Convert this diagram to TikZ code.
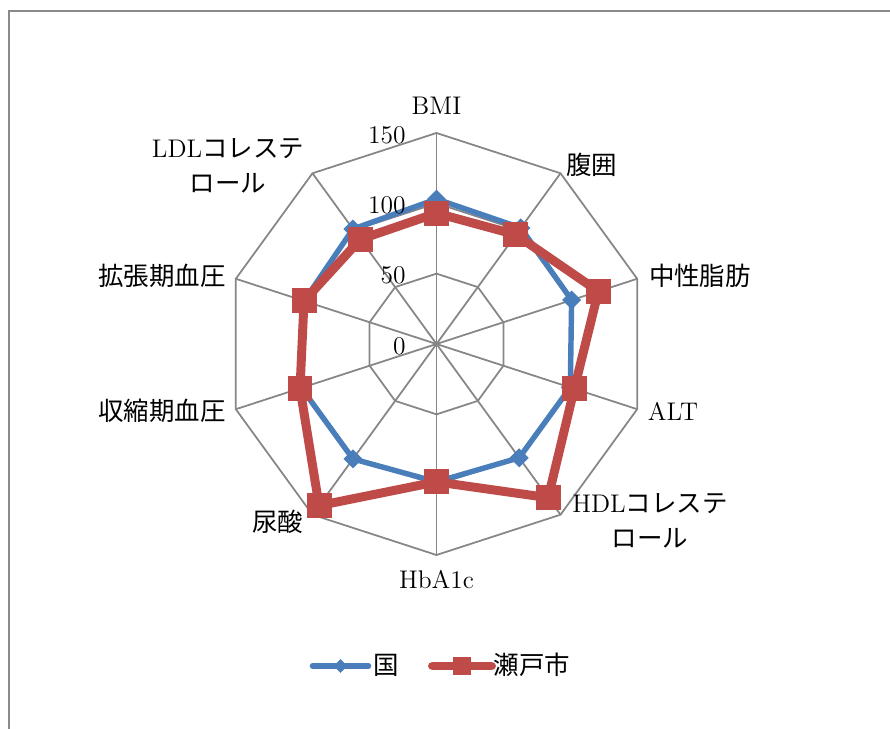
\documentclass[tikz,border=0pt]{standalone}
\usepackage{fontspec}
\newfontfamily\jp{Noto Sans CJK JP}
\usepackage{tikz}
\usetikzlibrary{
    calc,
    positioning,
    shapes.geometric
}
\definecolor{gridgray}{HTML}{868686}
\definecolor{framegray}{HTML}{8A8A8A}
\definecolor{kuniblue}{HTML}{4A7EBB}
\definecolor{setored}{HTML}{BE4B48}

\tikzset{
    gridline/.style={draw=gridgray, line width=1pt},
    lbl/.style={font=\fontsize{14.5}{20}\selectfont, inner sep=0pt, align=center},
    kuniline/.style={draw=kuniblue, line width=3.1pt, line join=round},
    setoline/.style={draw=setored, line width=5.1pt, line join=round},
    kunimark/.style={diamond, fill=kuniblue, inner sep=0pt, minimum size=11pt},
    setomark/.style={rectangle, fill=setored, inner sep=0pt, minimum size=14.2pt}
}

\begin{document}
\begin{tikzpicture}[x=0.02cm, y=0.02cm]
                        \useasboundingbox (-436.5, -385) rectangle (453.5, 344);
                        \coordinate (fbl) at (-427.5, -385);
                        \coordinate (ftl) at (-427.5, 333);
                        \coordinate (ftr) at (453.5, 333);
                        \draw[draw=framegray, line width=1.1pt] (fbl) -- (ftl) -- (ftr);

                        \begin{scope}[scale=1.4067]
                            % rings and spokes
                            \foreach \r in {50,100,150} {
                                \draw[gridline] (90:\r) \foreach \k in {1,...,9} { -- ({90-36*\k}:\r) } -- cycle;
                            }
                            \coordinate (o) at (0, 0);
                            \foreach \k in {0,...,9} {
                                \coordinate (ax\k) at ({90-36*\k}:150);
                                \draw[gridline] (o) -- (ax\k);
                            }

                            % data
                            \foreach \v [count=\k from 0] in {103,102,101,100,100,98,101,101,99,101} {
                                \coordinate (kuni\k) at ({90-36*\k}:\v);
                            }
                            \foreach \v [count=\k from 0] in {93,96,121,103,135,98,142,102,99,92} {
                                \coordinate (seto\k) at ({90-36*\k}:\v);
                            }
                            \draw[kuniline] (kuni0) \foreach \k in {1,...,9} { -- (kuni\k) } -- cycle;
                            \foreach \k in {0,...,9} {
                                \node[kunimark] (kunim\k) at (kuni\k) {};
                            }
                            \draw[setoline] (seto0) \foreach \k in {1,...,9} { -- (seto\k) } -- cycle;
                            \foreach \k in {0,...,9} {
                                \node[setomark] (setom\k) at (seto\k) {};
                            }
                        \end{scope}

                        % scale values
                        \node[lbl, anchor=east] (v150) at (-30.5, 209) {150};
                        \node[lbl, anchor=east] (v100) at (-30.5, 139) {100};
                        \node[lbl, anchor=east] (v50) at (-30.5, 69) {50};
                        \node[lbl, anchor=east] (v0) at (-30.5, -2) {0};

                        % axis names
                        \node[lbl] (bmi) at (0, 238) {BMI};
                        \node[lbl] (fukui) at (155.5, 179) {\jp 腹囲};
                        \node[lbl] (chusei) at (263.5, 68) {\jp 中性脂肪};
                        \node[lbl] (alt) at (236.5, -67) {ALT};
                        \node[lbl] (hdl) at (213.5, -176.5) {HDL{\jp コレステ}\\{\jp ロール}};
                        \node[lbl] (hba) at (0, -236) {HbA1c};
                        \node[lbl] (nyosan) at (-158.5, -178) {\jp 尿酸};
                        \node[lbl] (shushuku) at (-274.5, -67) {\jp 収縮期血圧};
                        \node[lbl] (kakucho) at (-274.5, 68) {\jp 拡張期血圧};
                        \node[lbl] (ldl) at (-208.5, 178.5) {LDL{\jp コレステ}\\{\jp ロール}};

                        % legend
                        \coordinate (kl1) at (-124, -322);
                        \coordinate (kl2) at (-68, -322);
                        \coordinate (sl1) at (-4, -322);
                        \coordinate (sl2) at (55, -322);
                        \draw[kuniline, line cap=round] (kl1) -- (kl2);
                        \node[kunimark, minimum size=8pt] (kunileg) at ($(kl1)!0.5!(kl2)$) {};
                        \node[lbl, anchor=west] (kunitxt) at (-63, -321) {\jp 国};
                        \draw[setoline, line cap=round] (sl1) -- (sl2);
                        \node[setomark, minimum size=10.2pt] (setoleg) at ($(sl1)!0.5!(sl2)$) {};
                        \node[lbl, anchor=west] (setotxt) at (57, -321) {\jp 瀬戸市};
                    \end{tikzpicture}
\end{document}
